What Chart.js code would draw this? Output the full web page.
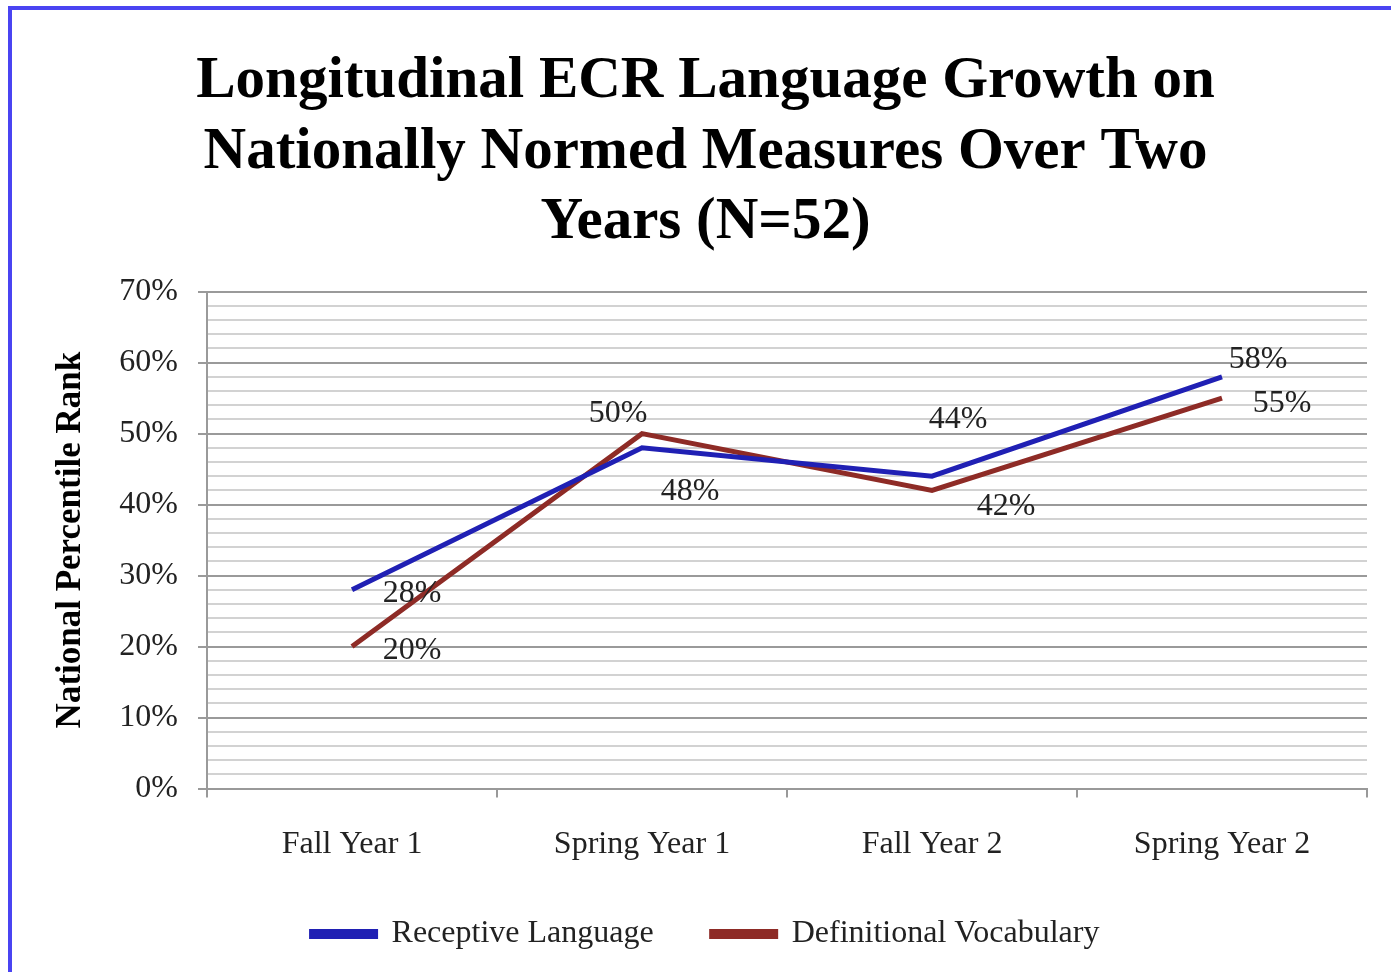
<!DOCTYPE html>
<html>
<head>
<meta charset="utf-8">
<script src="https://cdn.jsdelivr.net/npm/chart.js@4.4.0/dist/chart.umd.min.js"></script>
<style>
  html, body { margin: 0; padding: 0; background: #fff; overflow: hidden; }
  #wrap { position: relative; width: 1391px; height: 972px; }
  #frame { position: absolute; left: 8px; top: 6px; width: 1400px; height: 1000px;
           border-left: 4px solid #4a44f2; border-top: 4px solid #4a44f2; }
  canvas { position: absolute; left: 0; top: 0; }
</style>
</head>
<body>
<div id="wrap">
  <div id="frame"></div>
  <canvas id="chart" width="1391" height="972"></canvas>
</div>
<script>
var periods = ['Fall Year 1', 'Spring Year 1', 'Fall Year 2', 'Spring Year 2'];
var receptive = [28, 48, 44, 58];
var definitional = [20, 50, 42, 55];

// where each value label sits relative to its point (px)
var labelShift = [
  [[60, 4], [48, 44], [26, -57], [36, -17]],
  [[60, 4], [-24, -20], [74, 16], [60, 5]]
];

const serif = '"Liberation Serif", "DejaVu Serif", serif';

const valueLabels = {
  id: 'valueLabels',
  afterDatasetsDraw(chart) {
    const ctx = chart.ctx;
    ctx.save();
    ctx.font = '32px ' + serif;
    ctx.fillStyle = '#222';
    ctx.textAlign = 'center';
    ctx.textBaseline = 'middle';
    chart.data.datasets.forEach(function (ds, d) {
      chart.getDatasetMeta(d).data.forEach(function (pt, i) {
        ctx.fillText(ds.data[i] + '%', pt.x + labelShift[d][i][0], pt.y + labelShift[d][i][1]);
      });
    });
    ctx.restore();
  }
};

const ctx = document.getElementById('chart').getContext('2d');
const chart = new Chart(ctx, {
  type: 'line',
  data: {
    labels: periods,
    datasets: [{
      label: 'Receptive Language',
      data: receptive,
      borderColor: '#2020b4',
      backgroundColor: '#2020b4',
      borderWidth: 5,
      pointRadius: 0,
      tension: 0
    }, {
      label: 'Definitional Vocabulary',
      data: definitional,
      borderColor: '#8e2b26',
      backgroundColor: '#8e2b26',
      borderWidth: 5,
      pointRadius: 0,
      tension: 0
    }]
  },
  options: {
    responsive: false,
    animation: false,
    layout: { padding: { left: 20, right: 0, top: 0, bottom: 12 } },
    plugins: {
      title: {
        display: true,
        text: ['Longitudinal ECR Language Growth on', 'Nationally Normed Measures Over Two', 'Years (N=52)'],
        color: '#000',
        font: { family: serif, size: 59, weight: 'bold', lineHeight: 1.19 },
        padding: { top: 47, bottom: 34 }
      },
      legend: {
        position: 'bottom',
        labels: {
          color: '#222',
          font: { family: serif, size: 32 },
          boxWidth: 64,
          boxHeight: 5,
          padding: 26,
          generateLabels: function (c) {
            var items = Chart.defaults.plugins.legend.labels.generateLabels(c);
            items.forEach(function (it, i) { if (i < items.length - 1) it.text += '\u2003'; });
            return items;
          }
        }
      },
      tooltip: { enabled: false }
    },
    scales: {
      x: {
        offset: true,
        grid: { offset: true, drawOnChartArea: false, color: '#999', lineWidth: 2, tickLength: 9 },
        border: { color: '#999', width: 2 },
        ticks: { color: '#222', font: { family: serif, size: 32 }, padding: 28 }
      },
      y: {
        min: 0,
        max: 70,
        afterFit: function (s) { s.width = 187; },
        ticks: {
          stepSize: 2,
          autoSkip: false,
          color: '#222',
          padding: 20,
          font: { family: serif, size: 32 },
          callback: function (v) { return v % 10 === 0 ? v + '%' : ''; }
        },
        grid: {
          lineWidth: 2,
          tickLength: 9,
          color: function (c) { return c.tick && c.tick.value % 10 === 0 ? '#9a9a9a' : '#d2d2d2'; },
          tickColor: function (c) { return c.tick && c.tick.value % 10 === 0 ? '#9a9a9a' : 'rgba(0,0,0,0)'; }
        },
        border: { color: '#9a9a9a', width: 2 },
        title: {
          display: true,
          text: 'National Percentile Rank',
          color: '#000',
          font: { family: serif, size: 35, weight: 'bold' },
          padding: { top: 30, bottom: 0 }
        }
      },
      // empty right-hand spacer so the plot stops short of the canvas edge
      spacer: {
        type: 'linear',
        position: 'right',
        grid: { display: false },
        border: { display: false },
        ticks: { display: false },
        afterFit: function (s) { s.width = 24; }
      }
    }
  },
  plugins: [valueLabels]
});
</script>
</body>
</html>
